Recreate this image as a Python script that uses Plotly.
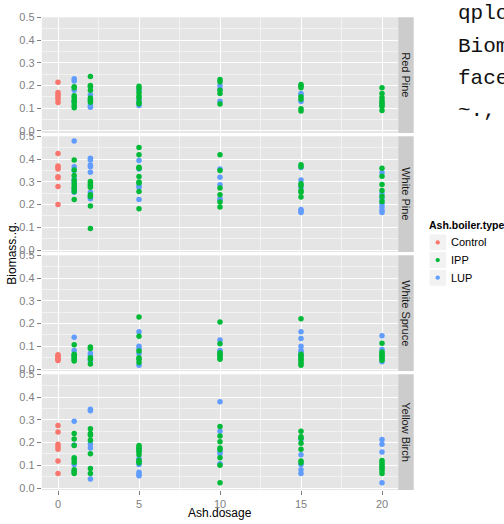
import plotly.graph_objects as go

# ---------------- data ----------------
DOSAGES = [0, 1, 2, 5, 10, 15, 20]
SPECIES = ["Red Pine", "White Pine", "White Spruce", "Yellow Birch"]
TYPES = ["Control", "IPP", "LUP"]
COLORS = {"Control": "#F8766D", "IPP": "#00BA38", "LUP": "#619CFF"}
Y_TICKS = [0.0, 0.1, 0.2, 0.3, 0.4, 0.5]
X_TICKS = [0, 5, 10, 15, 20]

# Control only occurs at dosage 0
red_pine_control = [0.215, 0.17, 0.16, 0.15, 0.14, 0.125]
red_pine_ipp = [[], [0.195, 0.19, 0.155, 0.148, 0.135, 0.125, 0.112, 0.102],
                [0.24, 0.2, 0.195, 0.18, 0.145, 0.135, 0.127],
                [0.197, 0.187, 0.17, 0.155, 0.145, 0.127, 0.12],
                [0.227, 0.217, 0.18, 0.165, 0.119],
                [0.205, 0.198, 0.191, 0.151, 0.14, 0.098, 0.088],
                [0.191, 0.165, 0.148, 0.134, 0.124, 0.115, 0.108, 0.09]]
red_pine_lup = [[], [0.23, 0.22, 0.18, 0.13], [0.16, 0.14, 0.112, 0.105],
                [0.18, 0.135, 0.112], [0.2, 0.185, 0.131], [0.165, 0.16, 0.13], [0.12]]

white_pine_control = [0.425, 0.37, 0.365, 0.357, 0.323, 0.318, 0.28, 0.2]
white_pine_ipp = [[], [0.397, 0.353, 0.328, 0.306, 0.292, 0.281, 0.27, 0.258, 0.223],
                  [0.302, 0.292, 0.284, 0.277, 0.243, 0.236, 0.194, 0.095],
                  [0.452, 0.42, 0.365, 0.36, 0.324, 0.3, 0.295, 0.258, 0.182],
                  [0.42, 0.35, 0.273, 0.243, 0.211, 0.19],
                  [0.376, 0.367, 0.292, 0.284, 0.262, 0.255, 0.233],
                  [0.36, 0.325, 0.289, 0.262, 0.236, 0.214]]
white_pine_lup = [[], [0.48, 0.367, 0.35, 0.313, 0.3, 0.27, 0.255],
                  [0.404, 0.397, 0.375, 0.367, 0.343, 0.255, 0.233, 0.226],
                  [0.394, 0.357, 0.284, 0.277, 0.222],
                  [0.357, 0.321, 0.287, 0.226, 0.219],
                  [0.364, 0.309, 0.277, 0.179, 0.172, 0.165],
                  [0.34, 0.248, 0.226, 0.204, 0.19, 0.175, 0.165]]

white_spruce_control = [0.063, 0.058, 0.052, 0.047, 0.042, 0.037]
white_spruce_ipp = [[], [0.107, 0.065, 0.058, 0.05, 0.042, 0.035],
                    [0.097, 0.09, 0.05, 0.043, 0.022],
                    [0.229, 0.144, 0.079, 0.05, 0.043, 0.029],
                    [0.207, 0.111, 0.072, 0.065, 0.058, 0.05, 0.043],
                    [0.222, 0.065, 0.058, 0.05, 0.043, 0.035, 0.025, 0.017],
                    [0.114, 0.075, 0.068, 0.061, 0.054, 0.047, 0.039]]
white_spruce_lup = [[], [0.14, 0.082, 0.063, 0.05], [0.07, 0.058, 0.035],
                    [0.164, 0.1, 0.089, 0.068, 0.017], [0.128, 0.082, 0.075],
                    [0.164, 0.135, 0.1, 0.082, 0.075, 0.06], [0.147, 0.086, 0.032]]

yellow_birch_control = [0.276, 0.247, 0.193, 0.183, 0.171, 0.119, 0.064]
yellow_birch_ipp = [[], [0.24, 0.216, 0.187, 0.133, 0.126, 0.114, 0.08, 0.071, 0.064],
                    [0.261, 0.24, 0.233, 0.211, 0.151, 0.086, 0.064],
                    [0.187, 0.18, 0.176, 0.165, 0.159, 0.147, 0.121, 0.116, 0.111],
                    [0.271, 0.229, 0.204, 0.176, 0.169, 0.133, 0.1, 0.023],
                    [0.25, 0.226, 0.219, 0.197, 0.171, 0.119, 0.111],
                    [0.121, 0.111, 0.101, 0.094, 0.086, 0.076, 0.064]]
yellow_birch_lup = [[], [0.294, 0.19, 0.104, 0.075], [0.347, 0.34, 0.194, 0.176, 0.04],
                    [0.171, 0.13, 0.104, 0.069, 0.06, 0.054],
                    [0.38, 0.25, 0.161, 0.151, 0.107],
                    [0.214, 0.147, 0.104, 0.08, 0.064],
                    [0.214, 0.193, 0.159, 0.023]]

CODE_LINES = ["qplot(Ash.dosage,", "Biomass..g.,", "facets=Species", "~.,"]

# ---------------- layout helpers ----------------
W, H = 504, 524
def px(x):
    return x / W
def py(y):
    return 1 - y / H

PANEL_L, PANEL_R = 41.8, 398.2
PANEL_H = 118.0
GAP = 3.33
TOP0 = 11.5
STRIP_R = 413.7

panels = {
    "Red Pine": (red_pine_control, red_pine_ipp, red_pine_lup),
    "White Pine": (white_pine_control, white_pine_ipp, white_pine_lup),
    "White Spruce": (white_spruce_control, white_spruce_ipp, white_spruce_lup),
    "Yellow Birch": (yellow_birch_control, yellow_birch_ipp, yellow_birch_lup),
}

fig = go.Figure()
shapes = []
annotations = []
layout_axes = {}

for i, sp in enumerate(SPECIES):
    n = i + 1
    xa = "x" if n == 1 else f"x{n}"
    ya = "y" if n == 1 else f"y{n}"
    control, ipp, lup = panels[sp]

    def add(xs, ys, t):
        fig.add_trace(go.Scatter(
            x=xs, y=ys, mode="markers", xaxis=xa, yaxis=ya,
            marker=dict(color=COLORS[t], size=5.5, line=dict(width=0)),
            name=t, showlegend=False, hoverinfo="x+y"))

    add([DOSAGES[0]] * len(control), control, "Control")
    lx, lyv = [], []
    for d, vals in zip(DOSAGES, lup):
        lx += [d] * len(vals)
        lyv += vals
    add(lx, lyv, "LUP")
    ix, iyv = [], []
    for d, vals in zip(DOSAGES, ipp):
        ix += [d] * len(vals)
        iyv += vals
    add(ix, iyv, "IPP")

    top = TOP0 + i * (PANEL_H + GAP)
    bot = top + PANEL_H
    dom_y = [py(bot), py(top)]

    axis_common = dict(
        showgrid=True, gridcolor="white", gridwidth=1.1,
        zeroline=False, showline=False,
        ticks="outside", ticklen=4, tickwidth=1, tickcolor="#7F7F7F",
        tickfont=dict(family="Liberation Sans, Arial, sans-serif", size=11, color="#7F7F7F"),
    )
    layout_axes["xaxis" if n == 1 else f"xaxis{n}"] = dict(
        axis_common, domain=[px(PANEL_L), px(PANEL_R)], range=[-1, 21],
        anchor=ya, tickvals=X_TICKS, showticklabels=(n == 4),
        ticks="outside" if n == 4 else "",
        minor=dict(tickvals=[2.5, 7.5, 12.5, 17.5], showgrid=True,
                   gridcolor="#F2F2F2", gridwidth=0.6, ticks=""),
    )
    layout_axes["yaxis" if n == 1 else f"yaxis{n}"] = dict(
        axis_common, domain=dom_y, range=[-0.009, 0.501], anchor=xa,
        tickvals=Y_TICKS, tickformat=".1f",
        minor=dict(tickvals=[0.05, 0.15, 0.25, 0.35, 0.45], showgrid=True,
                   gridcolor="#F2F2F2", gridwidth=0.6, ticks=""),
    )

    # strip
    shapes.append(dict(type="rect", xref="paper", yref="paper",
                       x0=px(PANEL_R), x1=px(STRIP_R), y0=py(bot), y1=py(top),
                       fillcolor="#CCCCCC", line=dict(width=0), layer="below"))
    annotations.append(dict(text=sp, xref="paper", yref="paper",
                            x=px((PANEL_R + STRIP_R) / 2), y=py((top + bot) / 2),
                            textangle=90, showarrow=False,
                            font=dict(family="Liberation Sans, Arial, sans-serif",
                                      size=11, color="#1A1A1A"),
                            xanchor="center", yanchor="middle"))

# axis titles
annotations.append(dict(text="Biomass..g.", xref="paper", yref="paper",
                        x=px(12), y=py((TOP0 + TOP0 + 4 * PANEL_H + 3 * GAP) / 2),
                        textangle=-90, showarrow=False, xanchor="center", yanchor="middle",
                        font=dict(family="Liberation Sans, Arial, sans-serif", size=12, color="black")))
annotations.append(dict(text="Ash.dosage", xref="paper", yref="paper",
                        x=px((PANEL_L + PANEL_R) / 2), y=py(516.5), showarrow=False,
                        xanchor="center", yanchor="middle",
                        font=dict(family="Liberation Sans, Arial, sans-serif", size=12, color="black")))

# legend (drawn manually, ggplot style)
annotations.append(dict(text="<b>Ash.boiler.type</b>", xref="paper", yref="paper",
                        x=px(427), y=py(223), showarrow=False, xanchor="left", yanchor="middle",
                        font=dict(family="Liberation Sans, Arial, sans-serif", size=10.5, color="black")))
for k, t in enumerate(TYPES):
    cy = 241 + 18 * k
    shapes.append(dict(type="rect", xref="paper", yref="paper",
                       x0=px(429), x1=px(446.7), y0=py(cy + 8.6), y1=py(cy - 8.6),
                       fillcolor="#F2F2F2", line=dict(color="white", width=1)))
    shapes.append(dict(type="circle", xref="paper", yref="paper",
                       x0=px(437.7 - 2.2), x1=px(437.7 + 2.2), y0=py(cy + 2.2), y1=py(cy - 2.2),
                       fillcolor=COLORS[t], line=dict(width=0)))
    annotations.append(dict(text=t, xref="paper", yref="paper", x=px(449), y=py(cy),
                            showarrow=False, xanchor="left", yanchor="middle",
                            font=dict(family="Liberation Sans, Arial, sans-serif", size=11, color="black")))

# code text at right edge (clipped by window)
for k, line in enumerate(CODE_LINES):
    annotations.append(dict(text=line, xref="paper", yref="paper",
                            x=px(455.5), y=py(8 + 33 * k), showarrow=False,
                            xanchor="left", yanchor="middle",
                            font=dict(family="Liberation Mono, Courier New, monospace",
                                      size=21, color="#111111")))

fig.update_layout(
    width=W, height=H, autosize=False,
    margin=dict(l=0, r=0, t=0, b=0),
    paper_bgcolor="white", plot_bgcolor="#E5E5E5",
    showlegend=False, shapes=shapes, annotations=annotations,
    **layout_axes,
)

fig.write_html("out.html", config={"displayModeBar": False},
               post_script="document.body.style.margin='0';document.body.style.overflow='hidden';")
